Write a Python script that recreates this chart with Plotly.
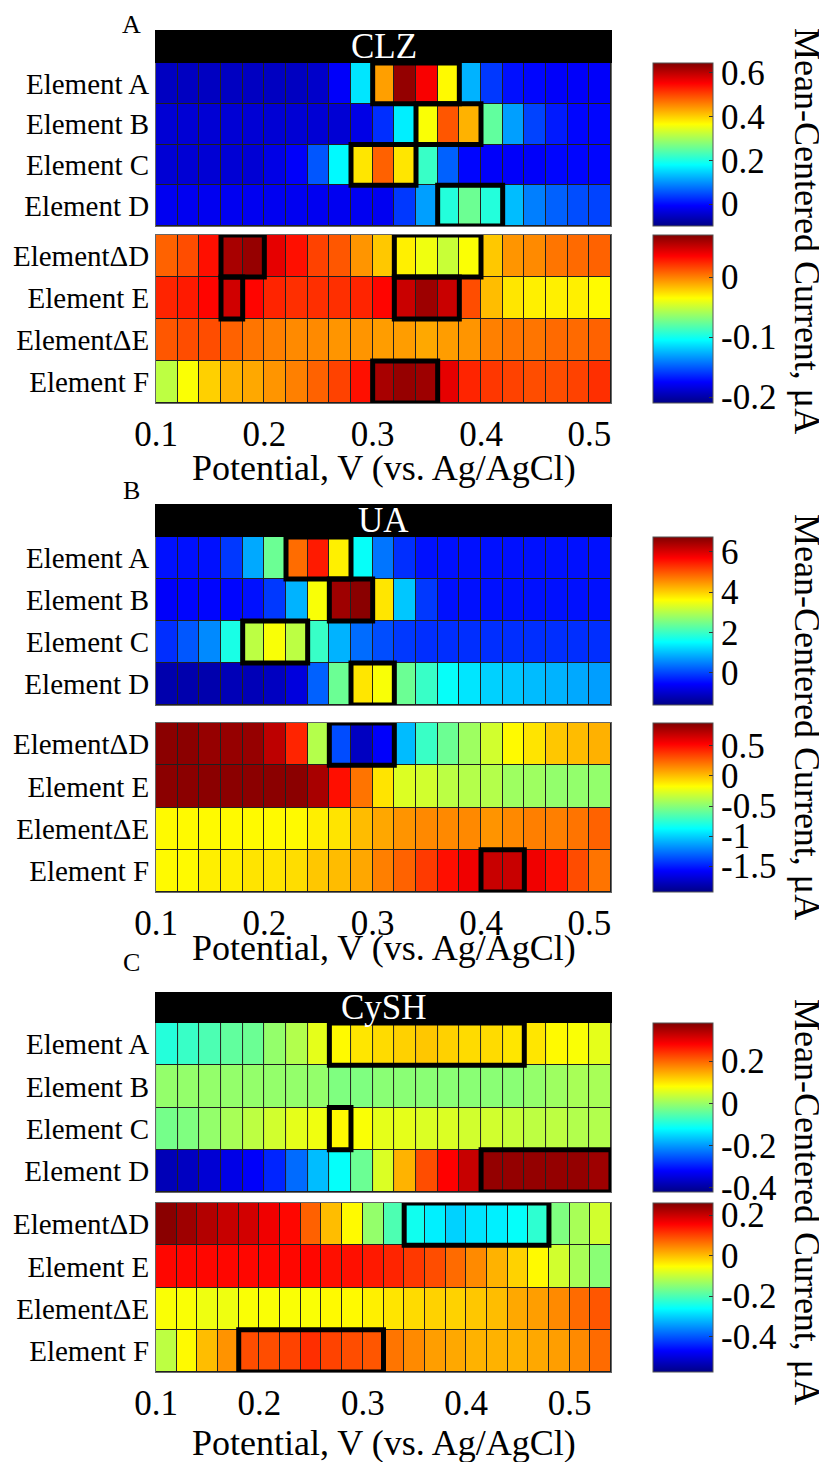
import plotly.graph_objects as go

# page body has an 8 px margin: the figure is sized/positioned to compensate
OFF = 8
W, H = 827 - OFF, 1462 - OFF
FONT = "Liberation Serif"

# ---------------- data ----------------
pot_AB = [0.11, 0.13, 0.15, 0.17, 0.19, 0.21, 0.23, 0.25, 0.27, 0.29, 0.31,
          0.33, 0.35, 0.37, 0.39, 0.41, 0.43, 0.45, 0.47, 0.49, 0.51]
pot_C_top = [0.1105, 0.1314, 0.1524, 0.1733, 0.1943, 0.2152, 0.2362, 0.2571, 0.2781, 0.2990,
             0.3200, 0.3410, 0.3619, 0.3829, 0.4038, 0.4248, 0.4457, 0.4667, 0.4876, 0.5086, 0.5295]
pot_C_bot = [0.11, 0.13, 0.15, 0.17, 0.19, 0.21, 0.23, 0.25, 0.27, 0.29, 0.31,
             0.33, 0.35, 0.37, 0.39, 0.41, 0.43, 0.45, 0.47, 0.49, 0.51, 0.53]

rows_top = ["Element A", "Element B", "Element C", "Element D"]
rows_bot = ["Element\u0394D", "Element E", "Element\u0394E", "Element F"]

clz_top = [
    [-0.055, -0.055, -0.055, -0.055, -0.055, -0.055, -0.055, -0.048, -0.011, 0.161, 0.436,
     0.630, 0.556, 0.369, 0.124, 0.034, 0.004, -0.003, -0.011, -0.011, -0.011],
    [-0.040, -0.040, -0.040, -0.040, -0.040, -0.040, -0.040, -0.040, -0.040, -0.026, 0.027,
     0.168, 0.362, 0.489, 0.422, 0.250, 0.109, 0.042, 0.012, -0.003, -0.003],
    [-0.040, -0.040, -0.040, -0.040, -0.040, -0.026, -0.011, 0.056, 0.176, 0.384, 0.481,
     0.384, 0.220, 0.064, -0.003, -0.011, -0.011, -0.011, -0.003, -0.003, -0.003],
    [-0.018, -0.018, -0.018, -0.018, -0.018, -0.018, -0.018, -0.018, -0.018, -0.018, -0.018,
     0.034, 0.109, 0.205, 0.258, 0.205, 0.131, 0.086, 0.064, 0.049, 0.042],
]
clz_bot = [
    [0.008, 0.014, 0.031, 0.059, 0.064, 0.042, 0.031, 0.017, 0.011, -0.006, -0.020,
     -0.031, -0.039, -0.050, -0.036, -0.020, -0.006, -0.003, 0.003, 0.006, 0.008],
    [0.025, 0.028, 0.034, 0.048, 0.034, 0.025, 0.022, 0.022, 0.022, 0.025, 0.034,
     0.050, 0.062, 0.050, 0.014, -0.017, -0.028, -0.031, -0.031, -0.031, -0.034],
    [0.011, 0.014, 0.014, 0.008, 0.003, 0.000, -0.003, -0.003, -0.006, -0.006, -0.008,
     -0.008, -0.011, -0.008, -0.006, 0.000, 0.003, 0.003, 0.006, 0.006, 0.008],
    [-0.053, -0.036, -0.022, -0.014, -0.011, -0.006, 0.000, 0.008, 0.017, 0.031, 0.059,
     0.064, 0.062, 0.042, 0.025, 0.020, 0.017, 0.014, 0.014, 0.017, 0.022],
]
ua_top = [
    [-0.43, -0.43, -0.43, -0.10, 0.82, 2.40, 4.81, 5.48, 3.73, 1.57, 0.40,
     -0.18, -0.43, -0.43, -0.43, -0.43, -0.43, -0.43, -0.43, -0.43, -0.43],
    [-0.60, -0.52, -0.52, -0.52, -0.43, -0.10, 0.90, 3.56, 6.48, 6.65, 3.81,
     1.07, -0.10, -0.43, -0.43, -0.43, -0.43, -0.43, -0.43, -0.43, -0.43],
    [-0.18, 0.15, 0.57, 1.73, 3.06, 3.56, 3.06, 1.98, 0.90, 0.32, 0.07,
     -0.10, -0.18, -0.18, -0.18, -0.18, -0.18, -0.18, -0.18, -0.18, -0.18],
    [-1.27, -1.27, -1.27, -1.18, -1.18, -1.10, -0.85, 0.23, 2.40, 3.81, 3.56,
     2.40, 1.98, 1.57, 1.32, 1.15, 1.07, 0.98, 0.90, 0.82, 0.73],
]
ua_bot = [
    [0.85, 0.85, 0.82, 0.82, 0.82, 0.71, 0.43, -0.38, -1.37, -1.76, -1.59,
     -1.06, -0.72, -0.58, -0.44, -0.30, -0.16, -0.10, -0.02, 0.01, 0.04],
    [0.85, 0.85, 0.85, 0.85, 0.85, 0.85, 0.85, 0.77, 0.49, 0.21, -0.10,
     -0.27, -0.30, -0.36, -0.38, -0.38, -0.44, -0.44, -0.47, -0.47, -0.47],
    [-0.16, -0.16, -0.16, -0.16, -0.16, -0.16, -0.16, -0.13, -0.10, 0.01, 0.07,
     0.12, 0.15, 0.15, 0.15, 0.12, 0.15, 0.18, 0.18, 0.21, 0.26],
    [-0.16, -0.16, -0.13, -0.13, -0.10, -0.10, -0.08, -0.02, 0.01, 0.07, 0.18,
     0.26, 0.37, 0.49, 0.57, 0.68, 0.68, 0.57, 0.49, 0.32, 0.21],
]
cysh_top = [
    [-0.092, -0.076, -0.060, -0.044, -0.036, -0.004, 0.020, 0.060, 0.084, 0.100, 0.108,
     0.116, 0.124, 0.116, 0.108, 0.108, 0.100, 0.100, 0.084, 0.076, 0.060],
    [-0.004, -0.004, -0.004, -0.004, -0.004, -0.004, -0.004, -0.004, -0.020, -0.020, -0.012,
     -0.012, -0.012, -0.012, -0.012, -0.012, -0.012, -0.004, 0.004, 0.012, 0.012],
    [-0.028, -0.020, -0.004, 0.012, 0.028, 0.044, 0.060, 0.068, 0.084, 0.076, 0.060,
     0.060, 0.052, 0.052, 0.044, 0.044, 0.036, 0.028, 0.028, 0.020, 0.020],
    [-0.380, -0.372, -0.356, -0.340, -0.324, -0.292, -0.236, -0.172, -0.116, -0.036, 0.052,
     0.140, 0.220, 0.280, 0.324, 0.364, 0.364, 0.364, 0.364, 0.364, 0.356],
]
cysh_bot = [
    [0.252, 0.235, 0.218, 0.202, 0.193, 0.168, 0.151, 0.076, 0.001, -0.049, -0.141,
     -0.199, -0.249, -0.274, -0.299, -0.283, -0.274, -0.258, -0.224, -0.158, -0.124, -0.091],
    [0.151, 0.151, 0.151, 0.151, 0.151, 0.151, 0.151, 0.151, 0.143, 0.143, 0.135,
     0.126, 0.110, 0.093, 0.068, 0.043, 0.010, -0.016, -0.049, -0.091, -0.124, -0.149],
    [-0.057, -0.057, -0.066, -0.066, -0.057, -0.057, -0.057, -0.057, -0.049, -0.049, -0.041,
     -0.032, -0.024, -0.016, -0.016, -0.007, 0.001, 0.018, 0.026, 0.043, 0.068, 0.085],
    [-0.107, -0.049, 0.001, 0.035, 0.093, 0.093, 0.101, 0.118, 0.101, 0.093, 0.085,
     0.060, 0.043, 0.026, 0.018, 0.010, 0.010, 0.010, 0.018, 0.026, 0.043, 0.068],
]

# highlighted boxes: (row, first column, last column)
boxes_clz_top = [(0, 10, 13), (1, 12, 14), (2, 9, 11), (3, 13, 15)]
boxes_clz_bot = [(0, 3, 4), (0, 11, 14), (1, 3, 3), (1, 11, 13), (3, 10, 12)]
boxes_ua_top = [(0, 6, 8), (1, 8, 9), (2, 4, 6), (3, 9, 10)]
boxes_ua_bot = [(0, 8, 10), (3, 15, 16)]
boxes_cysh_top = [(0, 8, 16), (2, 8, 8), (3, 15, 20)]
boxes_cysh_bot = [(0, 12, 18), (3, 4, 10)]

# colour ranges and colour-bar ticks
cb_clz_top = dict(zmin=-0.10, zmax=0.645, ticks=[0, 0.2, 0.4, 0.6], text=["0", "0.2", "0.4", "0.6"])
cb_clz_bot = dict(zmin=-0.21, zmax=0.07, ticks=[-0.2, -0.1, 0], text=["-0.2", "-0.1", "0"])
cb_ua_top = dict(zmin=-1.6, zmax=6.73, ticks=[0, 2, 4, 6], text=["0", "2", "4", "6"])
cb_ua_bot = dict(zmin=-1.93, zmax=0.88, ticks=[-1.5, -1, -0.5, 0, 0.5],
                 text=["-1.5", "-1", "-0.5", "0", "0.5"])
cb_cysh_top = dict(zmin=-0.42, zmax=0.38, ticks=[-0.4, -0.2, 0, 0.2], text=["-0.4", "-0.2", "0", "0.2"])
cb_cysh_bot = dict(zmin=-0.575, zmax=0.26, ticks=[-0.4, -0.2, 0, 0.2], text=["-0.4", "-0.2", "0", "0.2"])

x_ticks = [0.1, 0.2, 0.3, 0.4, 0.5]
x_ticktext = ["0.1", "0.2", "0.3", "0.4", "0.5"]

# ---------------- styling ----------------
jet = [[0.0, "rgb(0,0,135)"], [0.125, "rgb(0,0,255)"], [0.375, "rgb(0,255,255)"],
       [0.625, "rgb(255,255,0)"], [0.875, "rgb(255,0,0)"], [1.0, "rgb(128,0,0)"]]


def fy(p):
    return 1 - (p - OFF) / H


def fx(p):
    return (p - OFF) / W


X_L, X_R = 156, 611
CB_X = 653

panels = [
    dict(letter="A", title="CLZ", xr=[0.1, 0.52],
         top=dict(z=clz_top, x=pot_AB, cb=cb_clz_top, boxes=boxes_clz_top, y=(63, 226)),
         bot=dict(z=clz_bot, x=pot_AB, cb=cb_clz_bot, boxes=boxes_clz_bot, y=(235, 403)),
         bar=(30, 63), letter_y=None, xtitle_y=468, cbtitle_y=231),
    dict(letter="B", title="UA", xr=[0.1, 0.52],
         top=dict(z=ua_top, x=pot_AB, cb=cb_ua_top, boxes=boxes_ua_top, y=(537, 705)),
         bot=dict(z=ua_bot, x=pot_AB, cb=cb_ua_bot, boxes=boxes_ua_bot, y=(723, 892)),
         bar=(504, 537), letter_y=490, xtitle_y=948, cbtitle_y=717),
    dict(letter="C", title="CySH", xr=[0.1, 0.54],
         top=dict(z=cysh_top, x=pot_C_top, cb=cb_cysh_top, boxes=boxes_cysh_top, y=(1023, 1192)),
         bot=dict(z=cysh_bot, x=pot_C_bot, cb=cb_cysh_bot, boxes=boxes_cysh_bot, y=(1203, 1372)),
         bar=(992, 1023), letter_y=963, xtitle_y=1443, cbtitle_y=1202),
]

fig = go.Figure()
layout = dict(width=W, height=H, margin=dict(l=0, r=0, t=0, b=0),
              paper_bgcolor="white", plot_bgcolor="#202020",
              font=dict(family=FONT, color="black"), showlegend=False)
shapes = []
annotations = []

k = 0
for p in panels:
    for part, labels in (("top", rows_top), ("bot", rows_bot)):
        k += 1
        d = p[part]
        xa = "x" if k == 1 else f"x{k}"
        ya = "y" if k == 1 else f"y{k}"
        xkey = "xaxis" if k == 1 else f"xaxis{k}"
        ykey = "yaxis" if k == 1 else f"yaxis{k}"
        y0, y1 = d["y"]
        cb = d["cb"]
        fig.add_trace(go.Heatmap(
            z=d["z"], x=d["x"], y=[0, 1, 2, 3], colorscale=jet,
            zmin=cb["zmin"], zmax=cb["zmax"], xgap=1, ygap=1,
            hoverinfo="skip", xaxis=xa, yaxis=ya,
            colorbar=dict(x=fx(CB_X), xanchor="left", xpad=0, ypad=0,
                          thickness=60, lenmode="pixels", len=y1 - y0,
                          y=fy((y0 + y1) / 2), yanchor="middle",
                          tickvals=cb["ticks"], ticktext=cb["text"],
                          ticks="inside", ticklen=4, tickcolor="#333",
                          outlinewidth=1, outlinecolor="#555",
                          tickfont=dict(family=FONT, size=35, color="black")),
        ))
        is_bot = part == "bot"
        layout[xkey] = dict(domain=[fx(X_L), fx(X_R)], range=p["xr"], anchor=ya,
                            showgrid=False, zeroline=False, automargin=False,
                            showline=True, mirror=True, linecolor="#666", linewidth=1,
                            ticks="", showticklabels=is_bot,
                            tickvals=x_ticks, ticktext=x_ticktext,
                            tickfont=dict(family=FONT, size=35, color="black"))
        layout[ykey] = dict(domain=[fy(y1), fy(y0)], range=[3.5, -0.5], anchor=xa,
                            showgrid=False, zeroline=False, automargin=False,
                            showline=True, mirror=True, linecolor="#666", linewidth=1,
                            ticks="", tickvals=[0, 1, 2, 3], ticktext=labels,
                            ticklabelstandoff=0,
                            tickfont=dict(family=FONT, size=29, color="black"))
        step = d["x"][1] - d["x"][0]
        for (r, c0, c1) in d["boxes"]:
            shapes.append(dict(type="rect", xref=xa, yref=ya,
                               x0=d["x"][c0] - step / 2, x1=d["x"][c1] + step / 2,
                               y0=r - 0.5, y1=r + 0.5,
                               line=dict(color="black", width=5), fillcolor="rgba(0,0,0,0)",
                               layer="above"))
    # title bar
    b0, b1 = p["bar"]
    shapes.append(dict(type="rect", xref="paper", yref="paper",
                       x0=fx(X_L - 1), x1=fx(X_R + 1), y0=fy(b1), y1=fy(b0),
                       fillcolor="black", line=dict(width=0), layer="above"))
    annotations.append(dict(text=p["title"], x=fx((X_L + X_R) / 2), y=fy((b0 + b1) / 2),
                            xref="paper", yref="paper", showarrow=False,
                            xanchor="center", yanchor="middle",
                            font=dict(family=FONT, size=35, color="white")))
    if p["letter_y"] is None:
        annotations.append(dict(text=p["letter"], x=fx(131), y=1.0,
                                xref="paper", yref="paper", showarrow=False,
                                xanchor="center", yanchor="top",
                                font=dict(family=FONT, size=26, color="black")))
    else:
        annotations.append(dict(text=p["letter"], x=fx(131), y=fy(p["letter_y"]),
                                xref="paper", yref="paper", showarrow=False,
                                xanchor="center", yanchor="middle",
                                font=dict(family=FONT, size=26, color="black")))
    annotations.append(dict(text="Potential, V (vs. Ag/AgCl)", x=fx((X_L + X_R) / 2),
                            y=fy(p["xtitle_y"]), xref="paper", yref="paper", showarrow=False,
                            xanchor="center", yanchor="middle",
                            font=dict(family=FONT, size=36, color="black")))
    annotations.append(dict(text="Mean-Centered Current, \u03bcA", x=fx(807), y=fy(p["cbtitle_y"]),
                            xref="paper", yref="paper", showarrow=False, textangle=90,
                            xanchor="center", yanchor="middle",
                            font=dict(family=FONT, size=36, color="black")))

layout["shapes"] = shapes
layout["annotations"] = annotations
fig.update_layout(**layout)
fig.write_html("out.html")
